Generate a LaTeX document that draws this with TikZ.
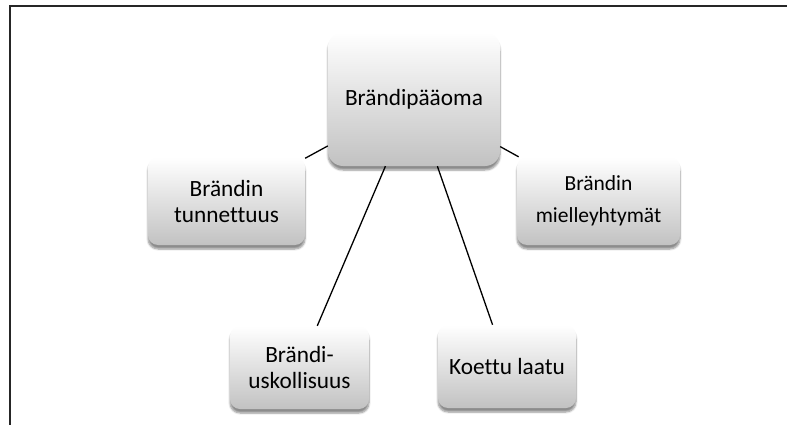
\documentclass[tikz,border=0pt]{standalone}
\usepackage{fontspec}
\setmainfont{Carlito}[Ligatures=NoCommon]
\usetikzlibrary{shadows.blur}

\begin{document}
\begin{tikzpicture}[x=1pt, y=-1pt,
  kortti/.style={rounded corners=10pt, top color=white, bottom color=black!24, blur shadow={shadow xshift=0pt, shadow yshift=-4pt, shadow blur steps=6, shadow opacity=45}, align=center, inner sep=0pt, font=\fontsize{23.3}{26}\selectfont},
  yhteys/.style={line width=1.3pt}]
  \useasboundingbox (0,0) rectangle (787,425);
  % frame
  \draw[line width=1.4pt, black!85] (10,425) -- (10,6) -- (787,6);
  % boxes
  \node[kortti, rounded corners=15pt, minimum width=172pt, minimum height=134pt] (paaoma) at (414,99) {Brändipääoma};
  \node[kortti, minimum width=157pt, minimum height=88pt] (tunnettuus) at (226.5,201) {Brändin\\tunnettuus};
  \node[kortti, minimum width=163pt, minimum height=88pt, font=\fontsize{21.5}{32}\selectfont] (mielikuvat) at (598.5,201) {Brändin\\mielleyhtymät};
  \node[kortti, minimum width=139pt, minimum height=83pt] (uskollisuus) at (299.5,367.5) {Brändi-\\uskollisuus};
  \node[kortti, minimum width=138pt, minimum height=83pt] (laatu) at (507,366.5) {Koettu laatu};
  % connectors
  \draw[yhteys] (paaoma) -- (tunnettuus);
  \draw[yhteys] (paaoma) -- (mielikuvat);
  \draw[yhteys] (paaoma) -- (uskollisuus);
  \draw[yhteys] (paaoma) -- (laatu);
\end{tikzpicture}
\end{document}
